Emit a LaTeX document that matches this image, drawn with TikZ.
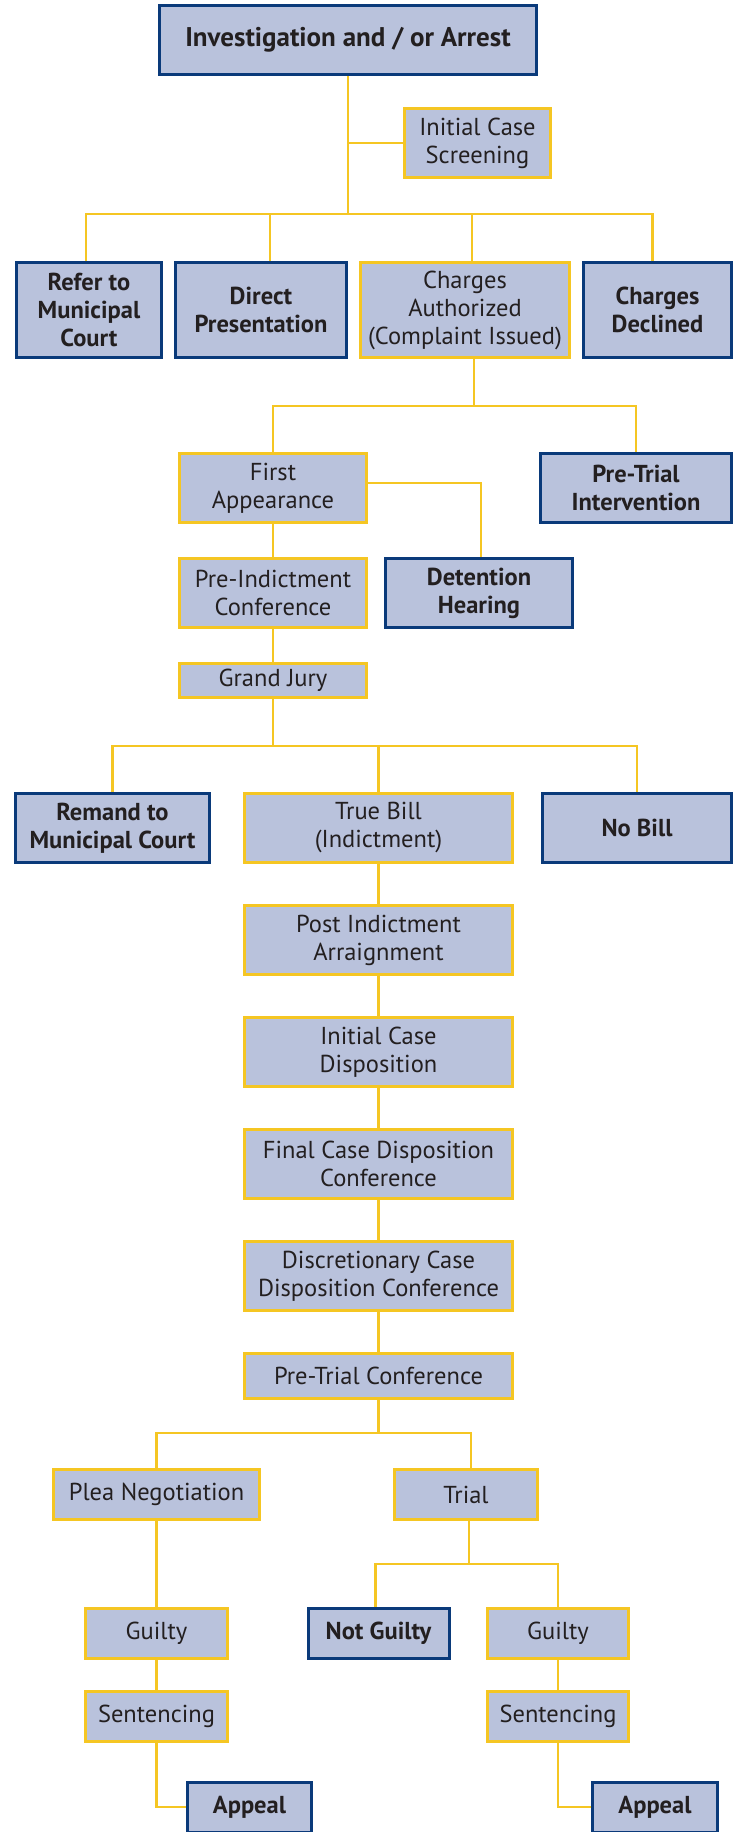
\documentclass[tikz,border=0pt]{standalone}
\usepackage{fontspec}
\setmainfont{PT Sans}
\usetikzlibrary{positioning,backgrounds}
\definecolor{boxfill}{RGB}{185,194,220}
\definecolor{gold}{RGB}{245,198,35}
\definecolor{navy}{RGB}{10,58,122}
\definecolor{ink}{RGB}{35,31,32}

\begin{document}
\begin{tikzpicture}[x=1pt,y=-1pt,node distance=40pt,
 gold node/.style={rectangle,draw=gold,fill=boxfill,line width=3pt,
   align=center,inner sep=0pt,text=ink,minimum height=69pt,
   font=\fontsize{24.5}{28}\selectfont},
 blue node/.style={gold node,draw=navy,font=\fontsize{24.5}{28}\selectfont\bfseries},
 link/.style={draw=gold,line width=2.6pt}]

  \useasboundingbox (0,0) rectangle (735,1832);

  \node[blue node,minimum width=377pt,font=\fontsize{27}{30}\selectfont\bfseries] (1) at (348,40) {Investigation and / or Arrest};
  \node[gold node,minimum width=146pt] (2) at (477.5,143) {Initial Case\\Screening};

  \node[blue node,minimum width=145pt,minimum height=95pt] (3) at (89,310) {Refer to\\Municipal\\Court};
  \node[blue node,minimum width=171pt,minimum height=95pt] (4) at (261,310) {Direct\\Presentation};
  \node[gold node,minimum width=209pt,minimum height=95pt] (5) at (465,310) {Charges\\Authorized\\(Complaint Issued)};
  \node[blue node,minimum width=148pt,minimum height=95pt] (6) at (657.5,310) {Charges\\Declined};

  \node[gold node,minimum width=187pt] (7) at (273,488) {First\\Appearance};
  \node[blue node,minimum width=191pt] (8) at (636,488) {Pre-Trial\\Intervention};
  \node[gold node,minimum width=187pt] (9) at (273,593) {Pre-Indictment\\Conference};
  \node[blue node,minimum width=187pt] (10) at (479,593) {Detention\\Hearing};
  \node[gold node,minimum width=187pt,minimum height=34pt] (11) at (273,680.5) {Grand Jury};

  \node[blue node,minimum width=194pt] (12) at (112.5,828) {Remand to\\Municipal Court};
  \node[gold node,minimum width=268pt] (13) at (378.5,828) {True Bill\\(Indictment)};
  \node[blue node,minimum width=189pt] (14) at (637,828) {No Bill};

  \node[gold node,minimum width=268pt] (15) [below=of 13] {Post Indictment\\Arraignment};
  \node[gold node,minimum width=268pt] (16) [below=of 15] {Initial Case\\Disposition};
  \node[gold node,minimum width=268pt] (17) [below=of 16] {Final Case Disposition\\Conference};
  \node[gold node,minimum width=268pt] (18) [below=of 17] {Discretionary Case\\Disposition Conference};
  \node[gold node,minimum width=268pt,minimum height=45pt] (19) [below=of 18] {Pre-Trial Conference};

  \node[gold node,minimum width=206pt,minimum height=50pt] (20) at (156.5,1494.5) {Plea Negotiation};
  \node[gold node,minimum width=143pt,minimum height=50pt] (21) at (466,1494.5) {Trial};

  \node[gold node,minimum width=142pt,minimum height=50pt] (24) at (156.5,1633.5) {Guilty};
  \node[blue node,minimum width=141pt,minimum height=50pt] (22) at (378.5,1633.5) {Not Guilty};
  \node[gold node,minimum width=141pt,minimum height=50pt] (23) at (558,1633.5) {Guilty};
  \node[gold node,minimum width=142pt,minimum height=50pt] (25) at (156.5,1716.5) {Sentencing};
  \node[gold node,minimum width=141pt,minimum height=50pt] (26) at (558,1716.5) {Sentencing};
  \node[blue node,minimum width=124pt,minimum height=50pt] (27) at (249.5,1807) {Appeal};
  \node[blue node,minimum width=125pt,minimum height=50pt] (28) at (655,1807) {Appeal};

  \coordinate (b1) at (348,214);
  \coordinate (b2) at (474,406);
  \coordinate (b3) at (273,746);
  \coordinate (b4) at (378.5,1433);
  \coordinate (b5) at (469,1564);

  \begin{scope}[on background layer]
  \draw[link] (1.south) -- (b1);
  \draw[link] (1.south |- 2.west) -- (2.west);
  \draw[link] ([xshift=-3pt]3.north) |- ([xshift=-5pt]6.north |- b1) -- ([xshift=-5pt]6.north);
  \draw[link] ([xshift=9pt]4.north) -- ([xshift=9pt]4.north |- b1);
  \draw[link] ([xshift=7pt]5.north) -- ([xshift=7pt]5.north |- b1);

  \draw[link] (b2 |- 5.south) -- (b2);
  \draw[link] (7.north) |- (b2) -| (8.north);
  \draw[link] ([yshift=5pt]7.east) -| ([xshift=2pt]10.north);
  \path[link]
     (7) edge (9)
     (9) edge (11);

  \draw[link] (11.south) -- (b3);
  \draw[link] (12.north) |- (b3) -| (14.north);
  \draw[link] (b3 -| 13.north) -- (13.north);
  \path[link]
     (13) edge (15)
     (15) edge (16)
     (16) edge (17)
     (17) edge (18)
     (18) edge (19);

  \draw[link] (19.south) -- (b4);
  \draw[link] (20.north) |- (b4) -| ([xshift=5pt]21.north);
  \draw[link] ([xshift=3pt]21.south) -- (b5);
  \draw[link] ([xshift=-3pt]22.north) |- (b5) -| (23.north);
  \path[link]
     (20) edge (24)
     (24) edge (25)
     (23) edge (26);
  \draw[link] (25.south) |- (27.west);
  \draw[link] (26.south) |- (28.west);
  \end{scope}
\end{tikzpicture}
\end{document}
